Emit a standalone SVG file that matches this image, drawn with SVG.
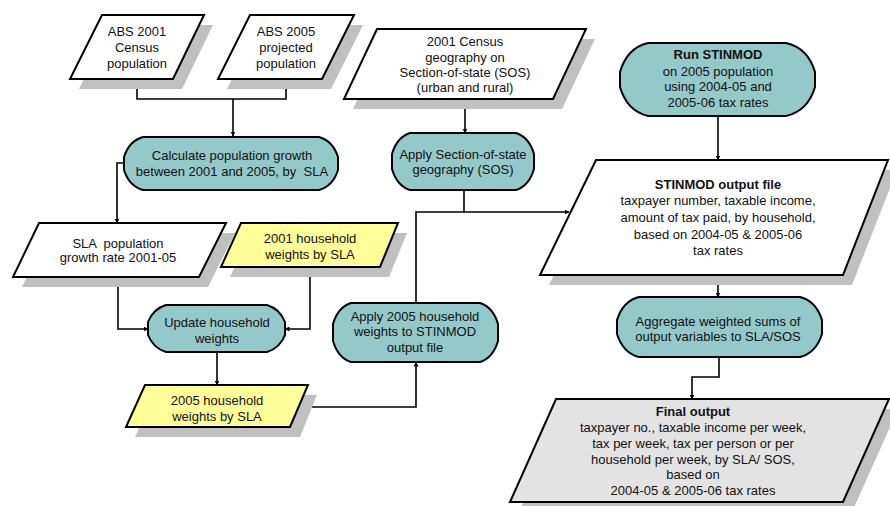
<svg xmlns="http://www.w3.org/2000/svg" width="890" height="506" viewBox="0 0 890 506">
<defs>
<marker id="ah" viewBox="0 0 10 10" refX="9" refY="5" markerWidth="5" markerHeight="5" orient="auto" markerUnits="userSpaceOnUse"><path d="M0,0 L10,5 L0,10 Z" fill="#000"/></marker>
<style>
.sh{fill:#c0c0c0;stroke:none}
.pw{fill:#fff;stroke:#000;stroke-width:2;stroke-linejoin:miter}
.py{fill:#ffff99;stroke:#000;stroke-width:2}
.pg{fill:#e3e3e3;stroke:#000;stroke-width:2}
.tm{fill:#94c9c9;stroke:#000;stroke-width:2}
.cn{fill:none;stroke:#000;stroke-width:1.6}
.ar{marker-end:url(#ah)}
text{font-family:"Liberation Sans",Arial,sans-serif;font-size:13px;fill:#111;text-anchor:middle;white-space:pre}
.b{font-weight:bold}
</style>
</defs>
<rect width="890" height="506" fill="#fff"/>

<g id="connectors">
<path class="cn" d="M137,79 V99 H286 V79"/>
<path class="cn ar" d="M233,99 V136"/>
<path class="cn ar" d="M124,163 H117 V223"/>
<path class="cn ar" d="M118,277 V329 H148"/>
<path class="cn ar" d="M310,267 V329 H285"/>
<path class="cn ar" d="M217,352 V385"/>
<path class="cn ar" d="M299,407 H416 V362"/>
<path class="cn ar" d="M416,303 V212 H569"/>
<path class="cn" d="M464,190 V212"/>
<path class="cn ar" d="M465,99 V133"/>
<path class="cn ar" d="M718,116 V160"/>
<path class="cn ar" d="M718,275 V297"/>
<path class="cn ar" d="M719,357 V377 H692 V399"/>
</g>

<g id="abs2001">
<polygon class="sh" points="111,25 213,25 182,89 79,89"/>
<polygon class="pw" points="102,15 204,15 173,79 70,79"/>
<text x="137" y="36">ABS 2001</text><text x="137" y="52">Census</text><text x="137" y="68">population</text>
</g>

<g id="abs2005">
<polygon class="sh" points="259,25 363,25 331,89 227,89"/>
<polygon class="pw" points="250,15 354,15 322,79 218,79"/>
<text x="286" y="36">ABS 2005</text><text x="286" y="52">projected</text><text x="286" y="68">population</text>
</g>

<g id="census-geo">
<polygon class="sh" points="386,39 595,39 562,109 353,109"/>
<polygon class="pw" points="377,29 586,29 553,99 344,99"/>
<text x="465" y="45.5">2001 Census</text><text x="465" y="61.5">geography on</text><text x="465" y="77">Section-of-state (SOS)</text><text x="465" y="92">(urban and rural)</text>
</g>

<g id="run-stinmod">
<path class="tm" d="M648,43 H786 Q808,48 815,72 L815,87 Q808,111 786,116 H648 Q627,111 620,87 L620,72 Q627,48 648,43 Z"/>
<text class="b" x="718" y="58.5">Run STINMOD</text><text x="718" y="75.5">on 2005 population</text><text x="718" y="91">using 2004-05 and</text><text x="718" y="106.5">2005-06 tax rates</text>
</g>

<g id="calc-growth">
<path class="tm" d="M143,137 H319 Q333,141 338,157 L338,170 Q333,186 319,190 H143 Q129,186 124,170 L124,157 Q129,141 143,137 Z"/>
<text x="232" y="159.5">Calculate population growth</text><text x="232" y="176">between 2001 and 2005, by  SLA</text>
</g>

<g id="apply-sos">
<path class="tm" d="M410,133 H516 Q529,137 534,154 L534,169 Q529,186 516,190 H410 Q397,186 392,169 L392,154 Q397,137 410,133 Z"/>
<text x="463" y="158.5">Apply Section-of-state</text><text x="463" y="174">geography (SOS)</text>
</g>

<g id="stinmod-out">
<polygon class="sh" points="605,170 897,170 852,285 549,285"/>
<polygon class="pw" points="596,160 888,160 843,275 540,275"/>
<text class="b" x="718" y="189">STINMOD output file</text><text x="718" y="205">taxpayer number, taxable income,</text><text x="718" y="222">amount of tax paid, by household,</text><text x="718" y="238.5">based on 2004-05 &amp; 2005-06</text><text x="718" y="255">tax rates</text>
</g>

<g id="sla-growth">
<polygon class="sh" points="48,233 235,233 208,287 22,287"/>
<polygon class="pw" points="39,223 226,223 199,277 13,277"/>
<text x="118" y="247.5">SLA  population</text><text x="118" y="261.5">growth rate 2001-05</text>
</g>

<g id="hh2001">
<polygon class="sh" points="250,233 407,233 389,277 230,277"/>
<polygon class="py" points="241,223 398,223 380,267 221,267"/>
<text x="310" y="242.5">2001 household</text><text x="310" y="258.5">weights by SLA</text>
</g>

<g id="update-weights">
<path class="tm" d="M166,305 H267 Q280,309 285,322 L285,335 Q280,348 267,352 H166 Q153,348 148,335 L148,322 Q153,309 166,305 Z"/>
<text x="217" y="326.5">Update household</text><text x="217" y="342.5">weights</text>
</g>

<g id="apply-2005">
<path class="tm" d="M351,303 H480 Q493,307 498,324 L498,341 Q493,358 480,362 H351 Q338,358 333,341 L333,324 Q338,307 351,303 Z"/>
<text x="415" y="320.5">Apply 2005 household</text><text x="415" y="336">weights to STINMOD</text><text x="415" y="351.5">output file</text>
</g>

<g id="hh2005">
<polygon class="sh" points="154,395 317,395 300,437 135,437"/>
<polygon class="py" points="145,385 308,385 290,427 126,427"/>
<text x="217" y="404.5">2005 household</text><text x="217" y="420.5">weights by SLA</text>
</g>

<g id="aggregate">
<path class="tm" d="M639,297 H800 Q816,301 822,320 L822,334 Q816,353 800,357 H639 Q623,353 617,334 L617,320 Q623,301 639,297 Z"/>
<text x="718" y="325.5">Aggregate weighted sums of</text><text x="718" y="341">output variables to SLA/SOS</text>
</g>

<g id="final-output">
<polygon class="sh" points="565,409 898,409 852,512 519,512"/>
<polygon class="pg" points="556,399 889,399 843,502 510,502"/>
<text class="b" x="693" y="416">Final output</text><text x="693" y="432">taxpayer no., taxable income per week,</text><text x="693" y="448">tax per week, tax per person or per</text><text x="693" y="463.5">household per week, by SLA/ SOS,</text><text x="693" y="479">based on</text><text x="693" y="494.5">2004-05 &amp; 2005-06 tax rates</text>
</g>
</svg>
